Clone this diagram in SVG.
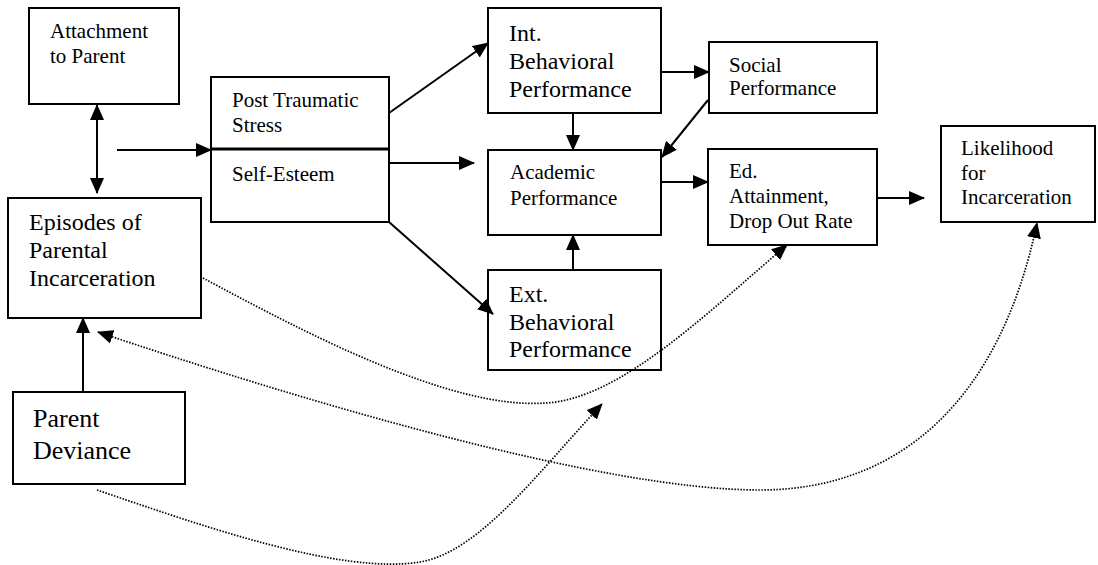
<svg xmlns="http://www.w3.org/2000/svg" width="1098" height="565" viewBox="0 0 1098 565">
  <style>
    .box { fill: #fff; stroke: #000; stroke-width: 2; }
    text { font-family: 'Liberation Serif', 'DejaVu Serif', serif; fill: #000; }
    .s21 { font-size: 21px; }
    .s24 { font-size: 24px; }
    .s26 { font-size: 26px; }
    .edge { stroke: #000; stroke-width: 2; fill: none; }
    .dot { stroke: #000; stroke-width: 1.7; fill: none; stroke-dasharray: 1.5 1.5; }
  </style>
  <defs>
    <marker id="head" markerUnits="userSpaceOnUse" markerWidth="16" markerHeight="14" refX="15" refY="7" orient="auto-start-reverse">
      <path d="M0,0 L16,7 L0,14 z" fill="#000"/>
    </marker>
  </defs>

  <rect width="1098" height="565" fill="#fff"/>

  <!-- nodes -->
  <g id="attachment">
    <rect class="box" x="29" y="8" width="150" height="96"/>
    <text class="s21" font-family="Liberation Serif, serif" x="50" y="38">Attachment</text>
    <text class="s21" font-family="Liberation Serif, serif" x="50" y="63">to Parent</text>
  </g>

  <g id="episodes">
    <rect class="box" x="8" y="198" width="193" height="120"/>
    <text class="s24" font-family="Liberation Serif, serif" x="29" y="230">Episodes of</text>
    <text class="s24" font-family="Liberation Serif, serif" x="29" y="258">Parental</text>
    <text class="s24" font-family="Liberation Serif, serif" x="29" y="286">Incarceration</text>
  </g>

  <g id="parent-deviance">
    <rect class="box" x="13" y="392" width="172" height="92"/>
    <text class="s26" font-family="Liberation Serif, serif" x="33" y="427">Parent</text>
    <text class="s26" font-family="Liberation Serif, serif" x="33" y="459">Deviance</text>
  </g>

  <g id="stress-esteem">
    <rect class="box" x="211" y="77" width="178" height="145"/>
    <line x1="211" y1="149" x2="389" y2="149" stroke="#000" stroke-width="3"/>
    <text class="s21" font-family="Liberation Serif, serif" x="232" y="107">Post Traumatic</text>
    <text class="s21" font-family="Liberation Serif, serif" x="232" y="132">Stress</text>
    <text class="s21" font-family="Liberation Serif, serif" x="232" y="181">Self-Esteem</text>
  </g>

  <g id="int-behavioral">
    <rect class="box" x="488" y="8" width="173" height="105"/>
    <text class="s24" font-family="Liberation Serif, serif" x="509" y="41">Int.</text>
    <text class="s24" font-family="Liberation Serif, serif" x="509" y="69">Behavioral</text>
    <text class="s24" font-family="Liberation Serif, serif" x="509" y="97">Performance</text>
  </g>

  <g id="academic">
    <rect class="box" x="488" y="150" width="173" height="85"/>
    <text class="s21" font-family="Liberation Serif, serif" x="510" y="179">Academic</text>
    <text class="s21" font-family="Liberation Serif, serif" x="510" y="205">Performance</text>
  </g>

  <g id="ext-behavioral">
    <rect class="box" x="488" y="270" width="173" height="100"/>
    <text class="s24" font-family="Liberation Serif, serif" x="509" y="302">Ext.</text>
    <text class="s24" font-family="Liberation Serif, serif" x="509" y="330">Behavioral</text>
    <text class="s24" font-family="Liberation Serif, serif" x="509" y="357">Performance</text>
  </g>

  <g id="social">
    <rect class="box" x="709" y="42" width="168" height="71"/>
    <text class="s21" font-family="Liberation Serif, serif" x="729" y="72">Social</text>
    <text class="s21" font-family="Liberation Serif, serif" x="729" y="95">Performance</text>
  </g>

  <g id="ed-attainment">
    <rect class="box" x="708" y="149" width="169" height="96"/>
    <text class="s21" font-family="Liberation Serif, serif" x="729" y="178">Ed.</text>
    <text class="s21" font-family="Liberation Serif, serif" x="729" y="203">Attainment,</text>
    <text class="s21" font-family="Liberation Serif, serif" x="729" y="228">Drop Out Rate</text>
  </g>

  <g id="likelihood">
    <rect class="box" x="941" y="126" width="154" height="96"/>
    <text class="s21" font-family="Liberation Serif, serif" x="961" y="155">Likelihood</text>
    <text class="s21" font-family="Liberation Serif, serif" x="961" y="180">for</text>
    <text class="s21" font-family="Liberation Serif, serif" x="961" y="204">Incarceration</text>
  </g>

  <!-- connectors -->
  <g id="connectors">
    <line class="edge" x1="97" y1="105" x2="97" y2="193" marker-start="url(#head)" marker-end="url(#head)"/>
    <line class="edge" x1="117" y1="150" x2="211" y2="150" marker-end="url(#head)"/>
    <line class="edge" x1="389" y1="113" x2="488" y2="43" marker-end="url(#head)"/>
    <line class="edge" x1="389" y1="163" x2="474" y2="163" marker-end="url(#head)"/>
    <line class="edge" x1="389" y1="222" x2="493" y2="314" marker-end="url(#head)"/>
    <line class="edge" x1="661" y1="72" x2="709" y2="72" marker-end="url(#head)"/>
    <line class="edge" x1="573" y1="113" x2="573" y2="150" marker-end="url(#head)"/>
    <line class="edge" x1="708" y1="100" x2="662" y2="157" marker-end="url(#head)"/>
    <line class="edge" x1="573" y1="270" x2="573" y2="235" marker-end="url(#head)"/>
    <line class="edge" x1="661" y1="182" x2="708" y2="182" marker-end="url(#head)"/>
    <line class="edge" x1="877" y1="198" x2="924" y2="198" marker-end="url(#head)"/>
    <line class="edge" x1="83" y1="392" x2="83" y2="318" marker-end="url(#head)"/>

    <!-- dotted influence curves -->
    <path class="dot" d="M203,278 C300,330 450,410 545,403 C620,400 710,310 787,245" marker-end="url(#head)"/>
    <path class="dot" d="M98,332 C300,400 600,490 760,490 C900,490 1000,400 1037,223" marker-start="url(#head)" marker-end="url(#head)"/>
    <path class="dot" d="M97,490 C200,525 340,575 420,562 C480,552 540,470 602,404" marker-end="url(#head)"/>
  </g>
</svg>
